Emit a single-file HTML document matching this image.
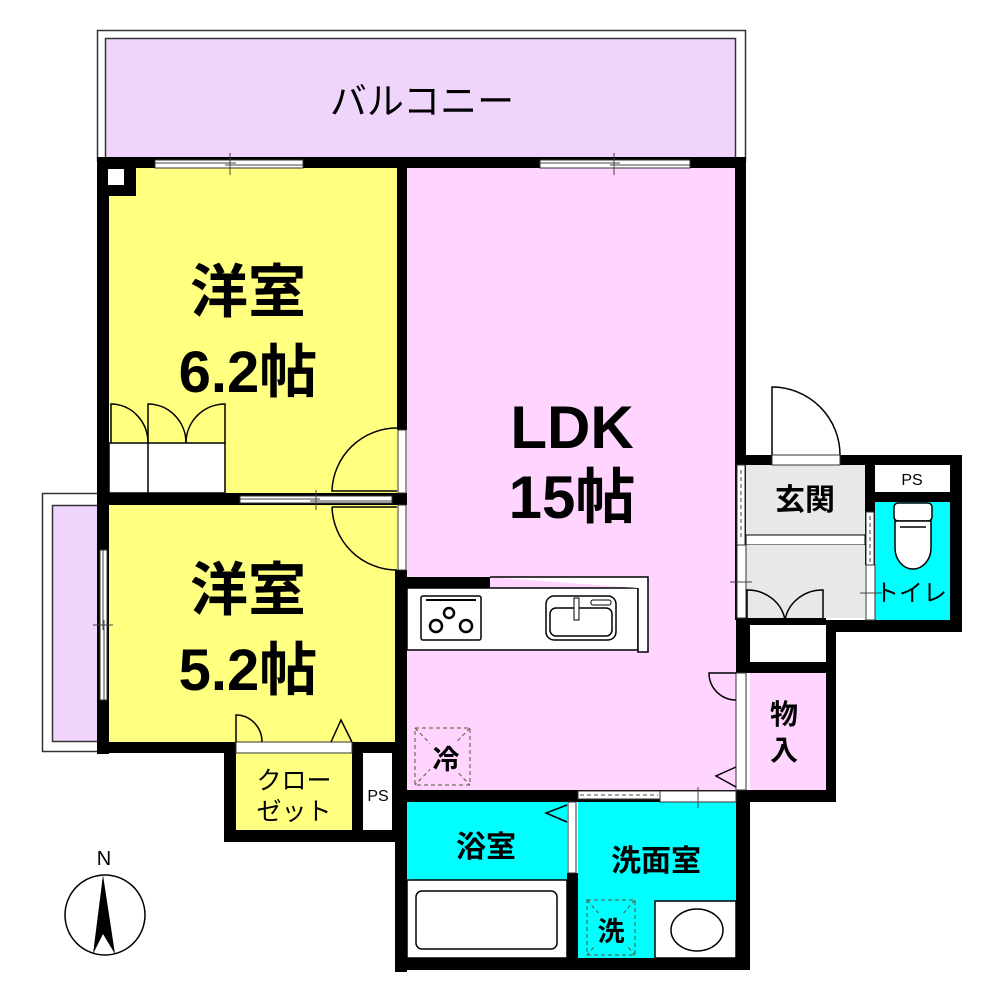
<!DOCTYPE html>
<html><head><meta charset="utf-8"><style>
html,body{margin:0;padding:0;background:#fff;}
svg{display:block;}
text{font-family:"Liberation Sans","Noto Sans CJK JP",sans-serif;fill:#000;}
.b{font-weight:bold;}
</style></head><body>
<svg width="1000" height="1000" viewBox="0 0 1000 1000" xmlns="http://www.w3.org/2000/svg">
<rect x="97.5" y="30.5" width="648" height="130" fill="#fff" stroke="#333" stroke-width="1.5"/>
<rect x="105.5" y="38.5" width="630" height="120" fill="#efd5fb" stroke="#333" stroke-width="1.5"/>
<text x="422" y="114" font-size="37" text-anchor="middle">バルコニー</text>
<rect x="42.5" y="493.5" width="60" height="258" fill="#fff" stroke="#333" stroke-width="1.5"/>
<rect x="52.5" y="505.5" width="50" height="236" fill="#efd5fb" stroke="#333" stroke-width="1.5"/>

<rect x="109" y="168" width="288" height="325" fill="#ffff80"/>
<rect x="109" y="505" width="288" height="237" fill="#ffff80"/>
<rect x="407" y="168" width="329" height="622" fill="#ffd5ff"/>
<rect x="236" y="753" width="116" height="77" fill="#ffff80"/>
<rect x="363" y="753" width="29" height="77" fill="#fff"/>
<rect x="407" y="802" width="160" height="78" fill="#00ffff"/>
<rect x="407" y="880" width="160" height="78" fill="#fff" stroke="#000" stroke-width="1.5"/>
<rect x="578" y="802" width="158" height="156" fill="#00ffff"/>
<rect x="655" y="901" width="81" height="57" fill="#fff" stroke="#000" stroke-width="1.5"/>
<rect x="750" y="673" width="76" height="117" fill="#ffd5ff"/>
<rect x="746" y="465" width="119" height="70" fill="#e8e8e8"/>
<rect x="746" y="535" width="119" height="10" fill="#fff" stroke="#000" stroke-width="1"/>
<rect x="746" y="545" width="119" height="73" fill="#e8e8e8"/>
<rect x="750" y="625" width="76" height="37" fill="#fff"/>
<rect x="875" y="465" width="75" height="27" fill="#fff"/>
<rect x="875" y="502" width="75" height="118" fill="#00ffff"/>

<g fill="#000">
<rect x="97" y="157" width="649" height="11"/>
<rect x="97" y="157" width="12" height="597"/>
<rect x="97" y="157" width="39" height="39"/>
<rect x="397" y="157" width="10" height="273"/>
<rect x="397" y="493" width="10" height="12"/>
<rect x="395" y="570" width="12" height="402"/>
<rect x="97" y="493" width="300" height="12"/>
<rect x="735" y="157" width="11" height="308"/>
<rect x="97" y="742" width="295" height="11"/>
<rect x="224" y="742" width="12" height="98"/>
<rect x="224" y="830" width="183" height="12"/>
<rect x="352" y="753" width="11" height="87"/>
<rect x="392" y="742" width="15" height="100"/>
<rect x="395" y="790" width="355" height="12"/>
<rect x="395" y="958" width="355" height="12"/>
<rect x="567" y="873" width="11" height="87"/>
<rect x="736" y="790" width="14" height="180"/>
<rect x="735" y="455" width="227" height="10"/>
<rect x="735" y="465" width="11" height="155"/>
<rect x="736" y="618" width="14" height="55"/>
<rect x="736" y="618" width="90" height="7"/>
<rect x="736" y="662" width="100" height="11"/>
<rect x="826" y="620" width="10" height="180"/>
<rect x="736" y="790" width="100" height="12"/>
<rect x="950" y="455" width="12" height="177"/>
<rect x="826" y="620" width="136" height="12"/>
<rect x="865" y="465" width="10" height="100"/>
<rect x="865" y="492" width="95" height="10"/>
<rect x="407" y="577" width="83" height="11"/>
</g>
<rect x="108" y="169" width="16" height="16" fill="#fff"/>

<g stroke="#333" stroke-width="1" fill="#fff">
<rect x="155" y="160" width="148" height="8"/>
<rect x="540" y="160" width="150" height="8"/>
<rect x="240" y="496" width="152" height="7"/>
<rect x="100" y="550" width="7" height="150"/>
<rect x="398" y="430" width="8" height="63"/>
<rect x="398" y="505" width="8" height="65"/>
<rect x="772" y="455" width="68" height="10"/>
<rect x="737" y="465" width="8" height="80"/>
<rect x="737" y="545" width="9" height="73"/>
<rect x="866" y="512" width="8" height="53"/>
<rect x="866" y="565" width="9" height="55"/>
<rect x="736" y="673" width="10" height="117"/>
<rect x="578" y="791" width="82" height="8"/>
<rect x="660" y="791" width="76" height="11"/>
<rect x="568" y="802" width="8" height="71"/>
<rect x="236" y="742" width="116" height="11"/>
</g>
<g stroke="#444" stroke-width="1" fill="none">
<line x1="155" y1="163" x2="236" y2="163"/><line x1="225" y1="165" x2="303" y2="165"/>
<line x1="230" y1="153" x2="230" y2="175"/>
<line x1="540" y1="163" x2="620" y2="163"/><line x1="610" y1="165" x2="690" y2="165"/>
<line x1="614" y1="153" x2="614" y2="175"/>
<line x1="240" y1="499" x2="320" y2="499"/><line x1="310" y1="501" x2="392" y2="501"/>
<line x1="316" y1="490" x2="316" y2="510"/>
<line x1="103" y1="550" x2="103" y2="630"/><line x1="104" y1="620" x2="104" y2="700"/>
<line x1="93" y1="625" x2="113" y2="625"/>
<line x1="741" y1="470" x2="741" y2="540" stroke-dasharray="4,3"/>
<line x1="870" y1="516" x2="870" y2="562" stroke-dasharray="4,3"/>
<line x1="580" y1="795" x2="658" y2="795" stroke-dasharray="4,3"/>
<line x1="730" y1="582" x2="752" y2="582"/>
<line x1="860" y1="593" x2="882" y2="593"/>
<line x1="698" y1="787" x2="698" y2="808"/>
</g>

<g stroke="#000" stroke-width="1.5" fill="none">
<path d="M397 428 A65 65 0 0 0 332 491 L397 491"/>
<path d="M332 507 L397 507 M332 507 A65 65 0 0 0 397 570"/>
<path d="M236 742 L236 715 A26 27 0 0 1 262 742"/>
<path d="M331 742 L341 720 L352 742"/>
<path d="M772 455 L772 387 A68 68 0 0 1 840 455"/>
<path d="M736 673 L709 673 A27 27 0 0 0 736 700"/>
<path d="M736 767 L716 776 L736 787"/>
<path d="M567 805 L546 813 L567 822"/>
<rect x="109" y="443" width="116" height="50" fill="#fff"/>
<line x1="148" y1="443" x2="148" y2="493"/>
<path d="M111 443 L111 404 A37 39 0 0 1 148 443"/>
<path d="M148 443 L148 404 A38 39 0 0 1 186 443"/>
<path d="M225 443 L225 404 A39 39 0 0 0 186 443"/>
<path d="M747 620 L747 590 A38 36 0 0 1 785 620"/>
<path d="M823 620 L823 590 A38 36 0 0 0 785 620"/>
</g>

<rect x="407" y="588" width="231" height="62" fill="#fff" stroke="#000" stroke-width="1.5"/>
<path d="M490 577 L648 577 L648 652 L638 652 L638 588" fill="#fff" stroke="#000" stroke-width="1.5"/>
<rect x="421" y="596" width="60" height="44" rx="2" fill="#fff" stroke="#000" stroke-width="1.5"/>
<line x1="426" y1="600" x2="476" y2="600" stroke="#000" stroke-width="2"/>
<g fill="#fff" stroke="#000" stroke-width="2.5"><circle cx="449" cy="613" r="5"/><circle cx="436" cy="626" r="6"/><circle cx="466" cy="626" r="6"/></g>
<rect x="546" y="596" width="70" height="44" rx="8" fill="#fff" stroke="#000" stroke-width="1.5"/>
<rect x="550" y="608" width="62" height="28" rx="6" fill="none" stroke="#000" stroke-width="1.5"/>
<rect x="574" y="598" width="5" height="22" fill="#fff" stroke="#000" stroke-width="1"/>
<rect x="591" y="600" width="20" height="5" rx="2" fill="#fff" stroke="#000" stroke-width="1"/>

<rect x="416" y="891" width="141" height="58" rx="6" fill="#fff" stroke="#000" stroke-width="1.5"/>
<ellipse cx="697" cy="930" rx="26" ry="21" fill="#fff" stroke="#000" stroke-width="1.5"/>
<rect x="894" y="503" width="38" height="18" rx="4" fill="#fff" stroke="#000" stroke-width="1.5"/>
<path d="M895 521 L895 548 A18 21 0 0 0 931 548 L931 521 Z" fill="#fff" stroke="#000" stroke-width="1.5"/>
<line x1="900" y1="527" x2="926" y2="527" stroke="#000" stroke-width="1.5"/>

<g stroke="#553" stroke-width="1" fill="none" stroke-dasharray="4,3">
<rect x="415" y="728" width="55" height="57"/><line x1="415" y1="728" x2="470" y2="785"/><line x1="470" y1="728" x2="415" y2="785"/>
<rect x="587" y="900" width="48" height="55"/><line x1="587" y1="900" x2="635" y2="955"/><line x1="635" y1="900" x2="587" y2="955"/>
</g>
<rect x="430" y="741" width="30" height="32" fill="#ffd5ff"/>
<rect x="595" y="913" width="32" height="32" fill="#00ffff"/>

<circle cx="105" cy="915" r="40" fill="#fff" stroke="#000" stroke-width="1.5"/>
<path d="M103 875 L115 954 L103 934 L93 954 Z" fill="#000"/>
<text x="104" y="865" font-size="20" text-anchor="middle">N</text>

<g text-anchor="middle">
<text class="b" x="248" y="312" font-size="58">洋室</text>
<text class="b" x="248" y="392" font-size="58">6.2帖</text>
<text class="b" x="248" y="610" font-size="58">洋室</text>
<text class="b" x="248" y="690" font-size="58">5.2帖</text>
<text class="b" x="572" y="448" font-size="60">LDK</text>
<text class="b" x="572" y="518" font-size="60">15帖</text>
<text x="294" y="789" font-size="25">クロー</text>
<text x="294" y="820" font-size="25">ゼット</text>
<text x="378" y="801" font-size="16">PS</text>
<text class="b" x="486" y="857" font-size="30">浴室</text>
<text class="b" x="656" y="871" font-size="30">洗面室</text>
<text class="b" x="446" y="769" font-size="27">冷</text>
<text class="b" x="611" y="941" font-size="27">洗</text>
<text class="b" x="805" y="510" font-size="30">玄関</text>
<text x="912" y="485" font-size="16">PS</text>
<text x="911" y="601" font-size="24">トイレ</text>
<text class="b" x="784" y="724" font-size="28">物</text>
<text class="b" x="784" y="760" font-size="28">入</text>
</g>
</svg>
</body></html>
